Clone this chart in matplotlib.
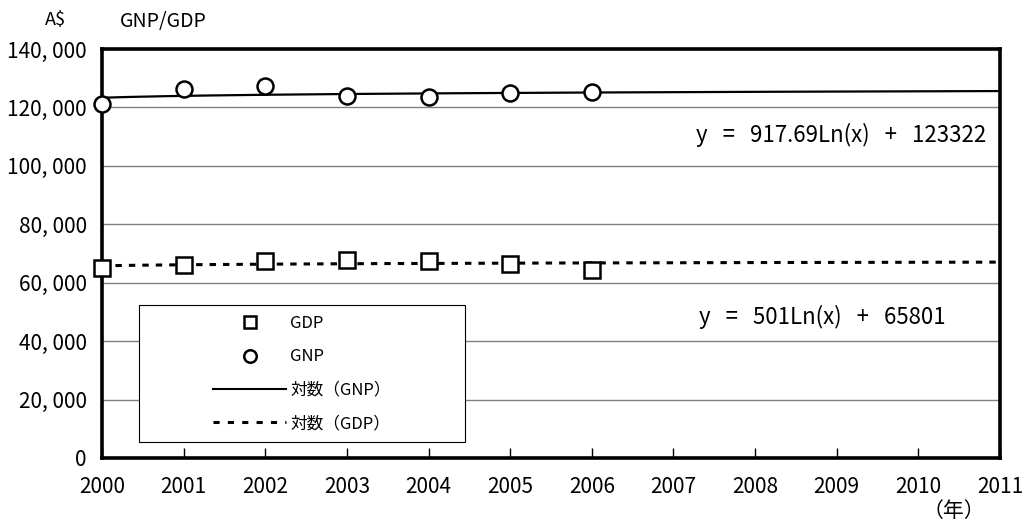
import numpy as np
import matplotlib
matplotlib.use("Agg")
import matplotlib.pyplot as plt
from matplotlib.lines import Line2D
from matplotlib.patches import Rectangle

plt.rcParams['font.family'] = ['Noto Sans CJK JP', 'DejaVu Sans']

years = [2000, 2001, 2002, 2003, 2004, 2005, 2006]
gnp = [121100, 126300, 127500, 123800, 123400, 124800, 125200]
gdp = [65100, 66200, 67350, 67900, 67600, 66550, 64500]
gnp_coef = (917.69, 123322)
gdp_coef = (501, 65801)
xticks = list(range(2000, 2012))
yticks = list(range(0, 140001, 20000))

W, H = 1027, 527
fig = plt.figure(figsize=(W/100, H/100), dpi=100)
ax = fig.add_axes([102/W, 1-458/H, 898/W, 409/H])

xt = np.linspace(2000, 2011, 200)
idx = xt - 1999
ax.plot(xt, gnp_coef[0]*np.log(idx) + gnp_coef[1], color='black', lw=1.6, zorder=3)
ax.plot(xt, gdp_coef[0]*np.log(idx) + gdp_coef[1], color='black', lw=2.2,
        dashes=(2.1, 2.3), zorder=3)
ax.plot(years, gnp, 'o', ms=11.5, mfc='white', mec='black', mew=1.8, ls='none', zorder=4, clip_on=False)
ax.plot(years, gdp, 's', ms=11, mfc='white', mec='black', mew=1.8, ls='none', zorder=4, clip_on=False)

ax.set_xlim(2000, 2011)
ax.set_ylim(0, 140000)
ax.set_xticks(xticks)
ax.set_yticks(yticks)
ax.set_yticklabels([f"{v:,}".replace(',', ', ') for v in yticks])
ax.yaxis.grid(True, color='#808080', lw=1)
ax.set_axisbelow(True)
for s in ax.spines.values():
    s.set_linewidth(2.6)
ax.tick_params(axis='x', direction='in', length=7, width=1, pad=13, labelsize=15)
ax.tick_params(axis='y', length=0, pad=11, labelsize=15)

ax.text(0.985, 0.79, 'y   =   917.69Ln(x)   +   123322', transform=ax.transAxes,
        ha='right', va='center', fontsize=16)
ax.text(0.94, 0.345, 'y   =   501Ln(x)   +   65801', transform=ax.transAxes,
        ha='right', va='center', fontsize=16)

fig.text(45/W, 1-20/H, 'A$', ha='left', va='center', fontsize=13)
fig.text(120/W, 1-22/H, 'GNP/GDP', ha='left', va='center', fontsize=14)
fig.text(954/W, 1-511/H, '（年）', ha='center', va='center', fontsize=15)

# legend frame
fig.patches.append(Rectangle((139/W, 1-442/H), 326/W, 137/H, transform=fig.transFigure,
                             facecolor='white', edgecolor='black', lw=0.8, zorder=5))

handles = [
    Line2D([], [], marker='s', ls='none', ms=9, mfc='white', mec='black', mew=1.8),
    Line2D([], [], marker='o', ls='none', ms=9, mfc='white', mec='black', mew=1.8),
    Line2D([], [], color='black', lw=1.5),
    Line2D([], [], color='black', lw=2.2, dashes=(2, 2.7)),
]
labels = ['GDP', 'GNP', '対数（GNP）', '対数（GDP）']
leg = fig.legend(handles, labels, loc='upper left', bbox_to_anchor=(213/W, 1-315/H),
                 frameon=False, fontsize=12, handlelength=4.4, borderpad=0,
                 labelspacing=0.98, handletextpad=0.24, borderaxespad=0)
leg.set_zorder(6)

fig.savefig('out.png', dpi=100)
